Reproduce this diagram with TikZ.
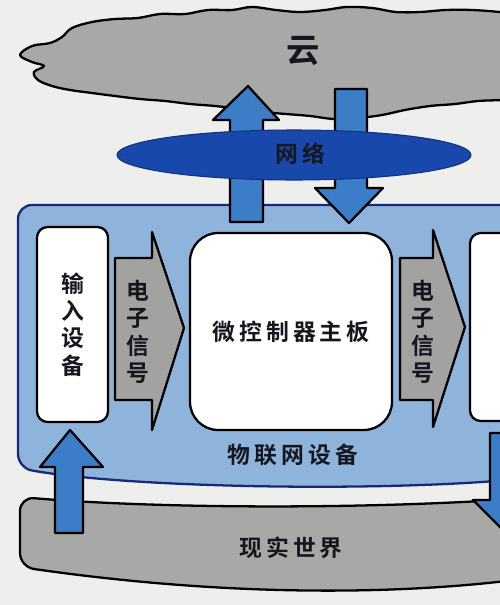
\documentclass[tikz,border=0pt]{standalone}
\usepackage{fontspec}
\newfontfamily\cjk[LetterSpace=18, BoldFont={Noto Sans CJK SC Bold}]{Noto Sans CJK SC}
\usetikzlibrary{positioning}
\definecolor{paper}{RGB}{238,238,236}
\definecolor{cloudgrey}{RGB}{168,168,166}
\definecolor{devblue}{RGB}{142,180,220}
\definecolor{devline}{RGB}{25,40,120}
\definecolor{netblue}{RGB}{24,72,172}
\definecolor{arrowblue}{RGB}{60,125,200}
\definecolor{siggrey}{RGB}{162,162,160}
\definecolor{inkdark}{RGB}{22,22,30}

\begin{document}
\begin{tikzpicture}[
		x=0.02cm, y=-0.02cm,
		every node/.style={font=\cjk\bfseries\fontsize{13}{15.6}\selectfont, text=inkdark, inner sep=0pt},
		outline/.style={draw=black, line width=1.3pt, line join=round},
		whitebox/.style={
			outline,
			fill=white,
			rounded corners=6pt,
			align=center
		},
		bluearrow/.style={outline, fill=arrowblue},
		sigarrow/.style={outline, fill=siggrey},
		vtext/.style={align=center}
		]
		
		\useasboundingbox (0,0) rectangle (500,605);
		\clip (0,0) rectangle (500,605);
		\fill[paper] (0,0) rectangle (500,605);
		
		% Cloud
		\draw[outline, fill=cloudgrey] plot[smooth cycle, tension=0.6] coordinates {
			(20,55) (32,46) (50,43) (62,37) (72,28) (92,22) (115,19) (138,18)
			(160,14) (185,14) (208,10) (232,10) (252,7) (276,10) (300,12) (325,10)
			(347,7) (372,8) (396,12) (420,12) (446,10) (472,10) (500,12) (530,15)
			(530,98) (502,100) (478,101) (455,104) (430,106) (405,110) (382,115)
			(358,118) (334,119) (310,116) (286,114) (262,112) (240,109) (215,106)
			(190,104) (165,101) (140,99) (115,96) (92,93) (70,90) (52,86) (38,80)
			(34,72) (44,66) (32,62)};
		
		% Device and world
		\draw[draw=devline, line width=1.3pt, fill=devblue, rounded corners=8pt]
		(530,205) -- (18,205) -- (18,468) .. controls (130,488) and (380,492) .. (530,478) -- cycle;
		\draw[outline, fill=cloudgrey, rounded corners=8pt]
		(20,497) .. controls (150,508) and (350,510) .. (530,498) -- (530,578)
		.. controls (420,592) and (250,600) .. (20,567) -- cycle;
		
		% Blue arrows
		\draw[bluearrow] (230,222) -- (230,120) -- (213,120) -- (248,86) -- (279,120) -- (263,120) -- (263,222) -- cycle;
		\draw[bluearrow] (335,89) -- (367,89) -- (367,188) -- (383,188) -- (349,223) -- (315,188) -- (335,188) -- cycle;
		\draw[bluearrow] (55,533) -- (55,467) -- (40,467) -- (70,430) -- (103,467) -- (83,467) -- (83,533) -- cycle;
		\draw[bluearrow] (490,433) -- (524,433) -- (524,500) -- (541,500) -- (507,534) -- (473,500) -- (490,500) -- cycle;
		
		% Network
		\draw[draw={rgb,255:red,15;green,50;blue,130}, line width=0.6pt, fill=netblue]
		(294,155) ellipse [x radius=177, y radius=25];
		\node (net) at (300,154) {网络};
		\node[font=\cjk\bfseries\fontsize{19}{20}\selectfont] (cloud) at (303,51) {云};
		
		% Nodes
		\node[whitebox, minimum width=1.42cm, minimum height=3.9cm] (input) at (72.5,324.5) {输\\入\\设\\备};
		\node[whitebox, rounded corners=16pt, minimum width=4.04cm, minimum height=3.94cm] (board) at (291,331.5) {微控制器主板};
		\node[whitebox, minimum width=1.8cm, minimum height=3.76cm] (output) at (515,327) {};
		
		% Signal arrows
		\draw[sigarrow] (115,258) -- (152,258) -- (152,232) -- (184,328) -- (152,430) -- (152,400) -- (115,400) -- cycle;
		\draw[sigarrow] (400,258) -- (433,258) -- (433,230) -- (465,327) -- (433,427) -- (433,400) -- (400,400) -- cycle;
		\node[vtext] (sigin) at (138,332) {电\\子\\信\\号};
		\node[vtext] (sigout) at (423,332) {电\\子\\信\\号};
		
		% Labels
		\node (device) at (293,455) {物联网设备};
		\node (world) at (291,548) {现实世界};
		
	\end{tikzpicture}
\end{document}
